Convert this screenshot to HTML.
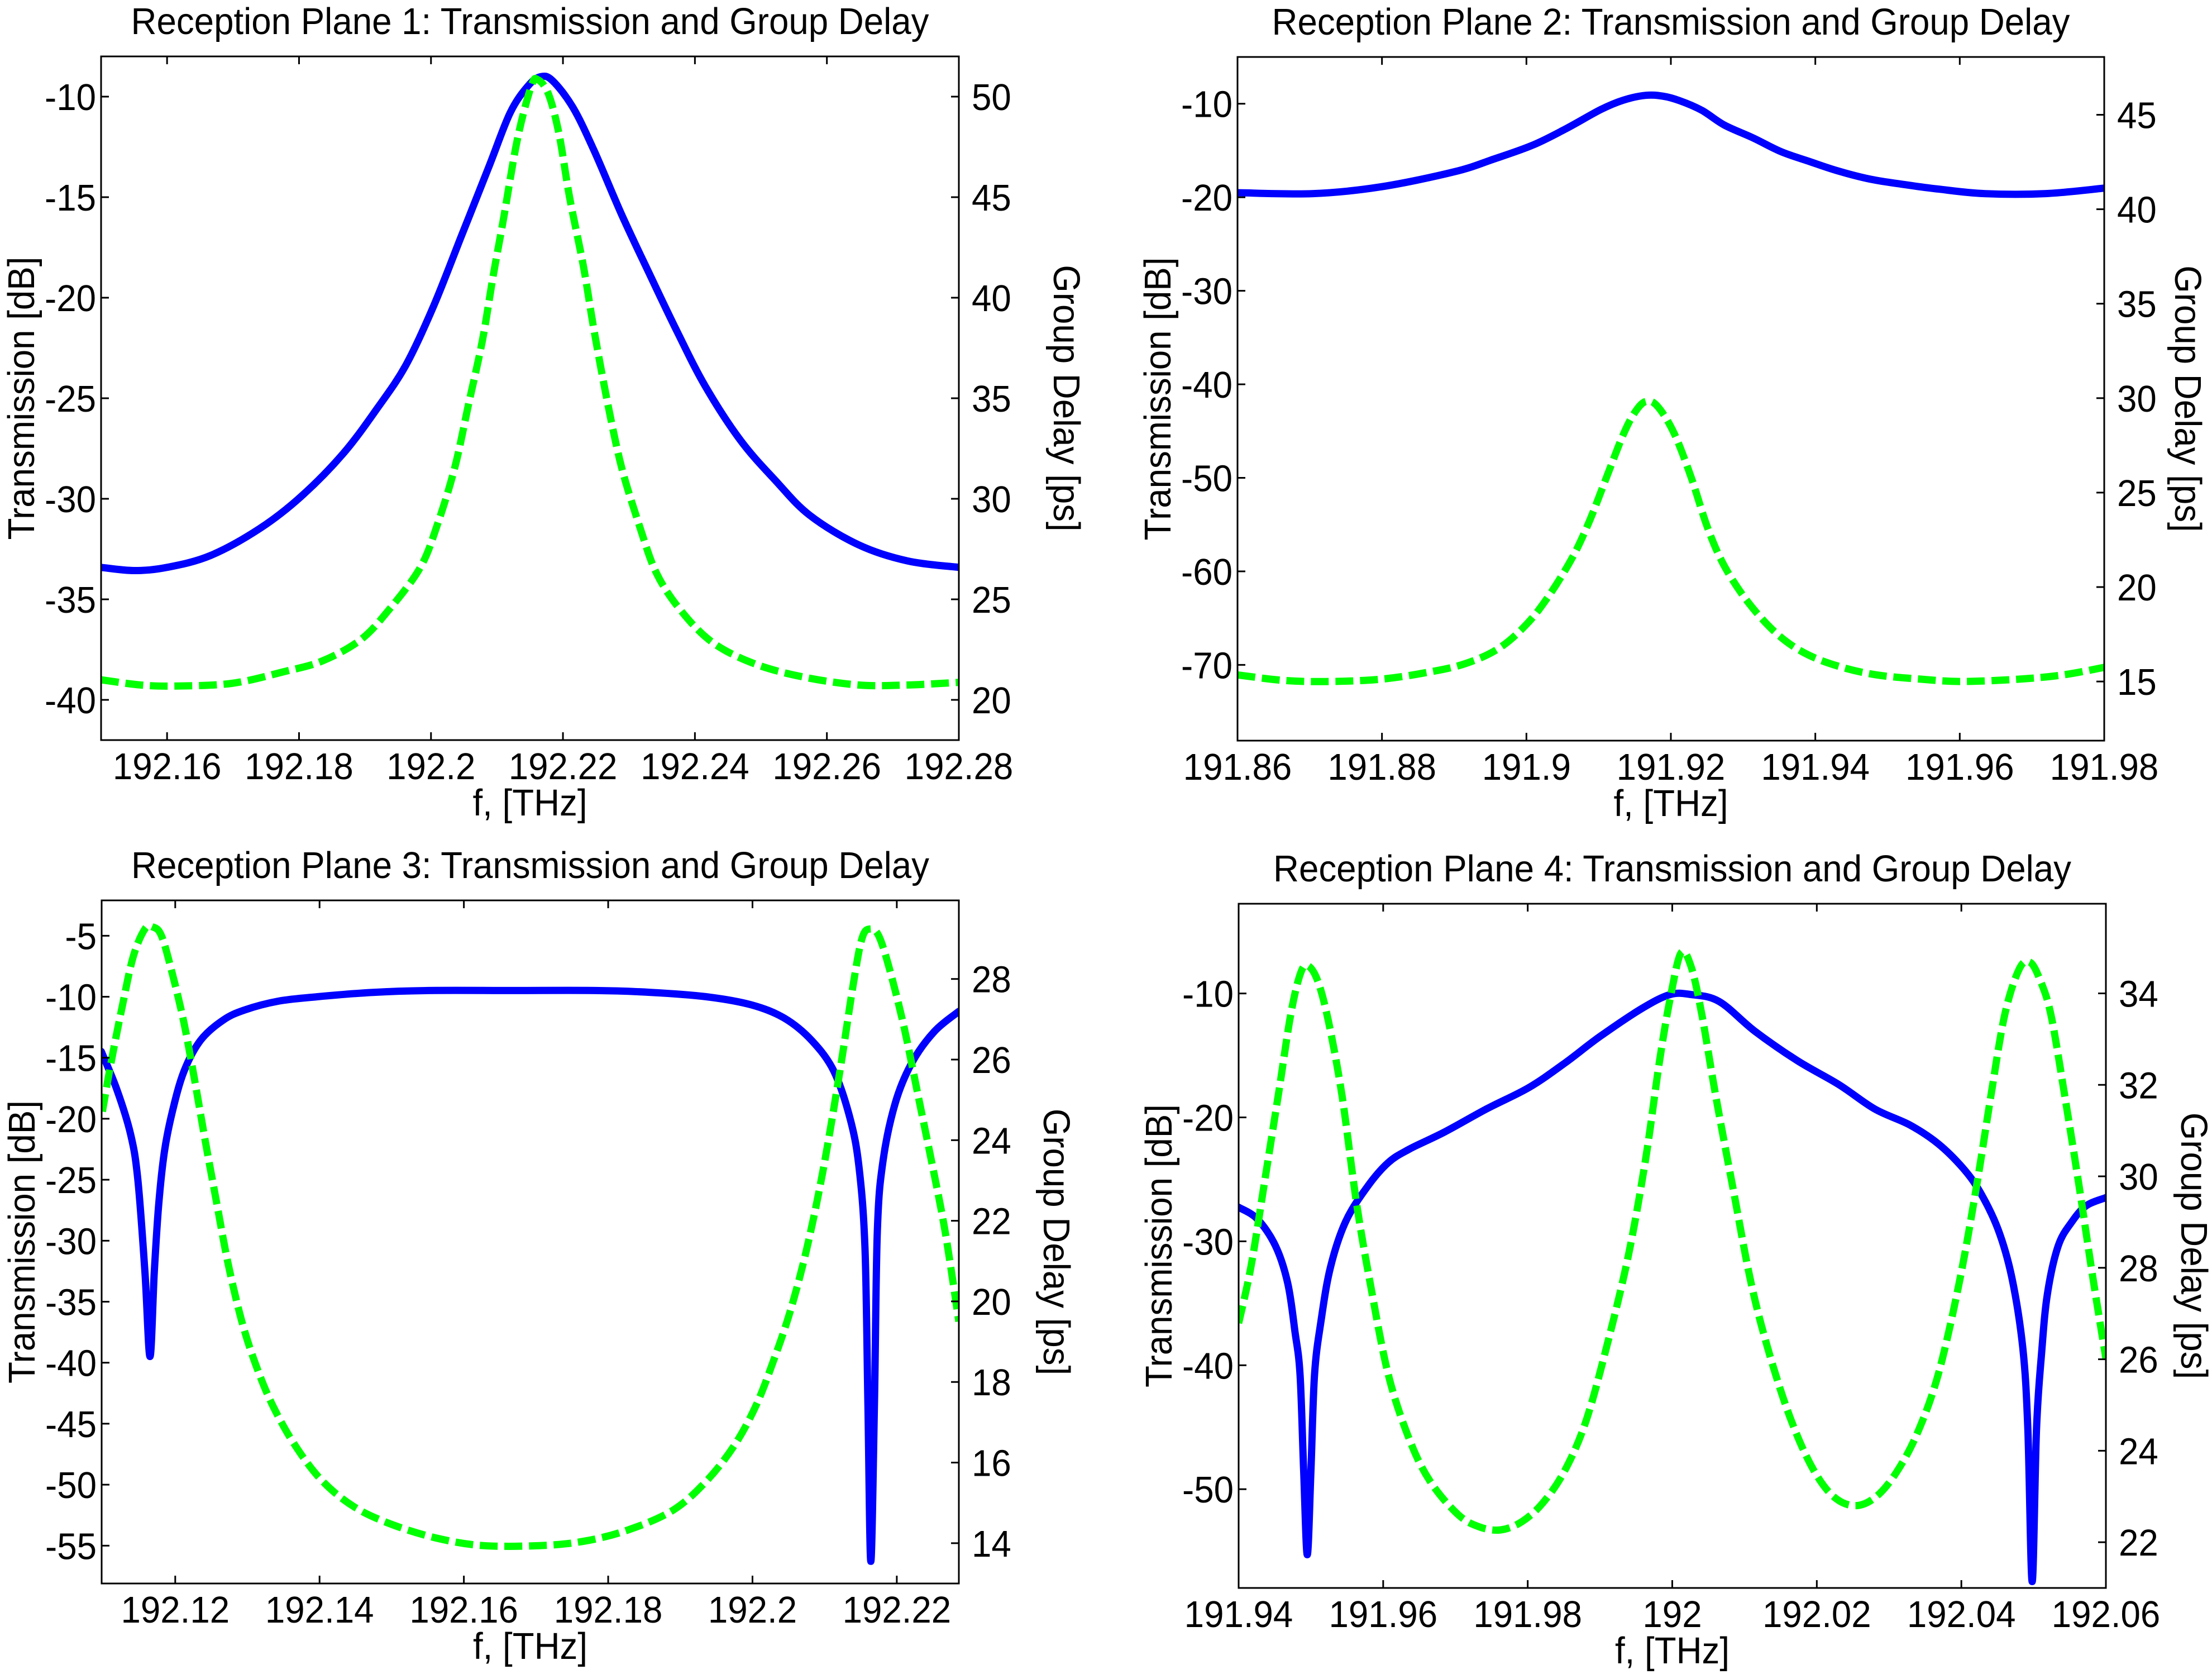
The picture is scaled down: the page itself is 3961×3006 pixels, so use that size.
<!DOCTYPE html>
<html><head><meta charset="utf-8"><style>
html,body{margin:0;padding:0;background:#fff;}
svg{display:block;}
text{font-family:"Liberation Sans",Arial,sans-serif;fill:#000;}
</style></head><body>
<svg id="chart" xmlns="http://www.w3.org/2000/svg" width="3961" height="3006" viewBox="0 0 3961 3006">
<rect x="0" y="0" width="3961" height="3006" fill="#fff"/>
</svg>
<script>
// ---------- Plane 1 ----------
const p1Freq = [192.15,192.155,192.16,192.1666,192.174,192.1803,192.1867,192.1919,192.1962,192.2004,192.2046,192.2088,192.212,192.2147,192.2166,192.2184,192.2215,192.2247,192.2289,192.2331,192.2374,192.2416,192.2469,192.2522,192.2574,192.2648,192.2722,192.28];
const p1Trans = [-33.41,-33.57,-33.41,-32.82,-31.49,-29.89,-27.75,-25.48,-23.35,-20.41,-16.94,-13.47,-10.80,-9.47,-9.01,-9.20,-10.53,-12.67,-15.87,-18.81,-21.75,-24.42,-27.09,-29.09,-30.82,-32.29,-33.09,-33.41];
const p1FreqG = [192.15,192.156,192.1613,192.1698,192.1777,192.1835,192.1893,192.1935,192.1983,192.2009,192.2036,192.2057,192.2078,192.2094,192.211,192.2131,192.2152,192.2162,192.2178,192.2194,192.221,192.2231,192.2247,192.2268,192.2289,192.2316,192.2342,192.2379,192.2427,192.249,192.2564,192.2648,192.2722,192.28];
const p1Delay = [21.0,20.74,20.69,20.82,21.40,21.93,22.98,24.43,26.54,28.65,31.55,34.71,37.88,41.04,43.94,47.89,50.53,50.84,50.13,48.15,45.0,41.57,38.40,34.71,31.55,28.65,26.28,24.43,22.85,21.80,21.14,20.74,20.74,20.87];
// ---------- Plane 2 ----------
const p2Freq = [191.86,191.8705,191.8798,191.89,191.8954,191.9009,191.9056,191.9103,191.9134,191.9165,191.9189,191.9212,191.9243,191.9274,191.9314,191.9353,191.9392,191.9431,191.9477,191.9524,191.9571,191.9634,191.9719,191.98];
const p2Trans = [-19.51,-19.61,-18.89,-17.28,-15.94,-14.42,-12.62,-10.62,-9.62,-9.10,-9.19,-9.67,-10.71,-12.28,-13.66,-15.14,-16.18,-17.18,-18.08,-18.65,-19.13,-19.61,-19.61,-19.03];
const p2FreqG = [191.86,191.8666,191.8728,191.8798,191.8861,191.8915,191.8962,191.9001,191.9032,191.9064,191.9087,191.9111,191.9134,191.915,191.9165,191.9181,191.9204,191.9228,191.9251,191.9274,191.9306,191.9345,191.9384,191.9431,191.9485,191.9548,191.9602,191.968,191.9743,191.98];
const p2Delay = [15.35,15.05,15.0,15.12,15.47,15.94,16.76,18.06,19.59,21.59,23.47,25.82,28.06,29.24,29.82,29.59,28.18,25.82,23.12,21.12,19.24,17.59,16.53,15.82,15.35,15.12,15.0,15.12,15.35,15.75];
// ---------- Plane 3 ----------
const p3Freq = [192.10975,192.1119,192.1138,192.1148,192.1158,192.1165,192.1171,192.1177,192.1185,192.1196,192.1212,192.1235,192.1266,192.1296,192.1343,192.1397,192.1474,192.1551,192.1666,192.1782,192.1859,192.1936,192.1998,192.2044,192.2082,192.2113,192.2136,192.2148,192.2156,192.216,192.2164,192.2169,192.2173,192.2181,192.2198,192.2221,192.2252,192.2286];
const p3Trans = [-14.49,-17.59,-21.24,-24.89,-32.55,-39.49,-32.55,-27.08,-22.70,-19.42,-16.13,-13.58,-11.93,-11.09,-10.36,-10.0,-9.64,-9.49,-9.49,-9.49,-9.64,-10.0,-10.66,-11.75,-13.58,-16.13,-20.15,-24.16,-30.73,-43.5,-56.28,-43.5,-29.27,-23.43,-18.69,-15.40,-12.85,-11.20];
const p3FreqG = [192.1099,192.1111,192.1127,192.1142,192.1158,192.1169,192.1181,192.1196,192.1212,192.1227,192.1242,192.1258,192.1273,192.1292,192.1312,192.1335,192.1366,192.1404,192.145,192.1504,192.1566,192.1627,192.1705,192.1767,192.1828,192.189,192.1936,192.1975,192.2005,192.2029,192.2052,192.2075,192.2098,192.2121,192.214,192.2152,192.2163,192.2175,192.219,192.221,192.2229,192.2248,192.2267,192.2286];
const p3Delay = [24.71,25.92,27.36,28.57,29.24,29.29,29.07,28.13,26.92,25.48,23.94,22.39,20.96,19.52,18.41,17.42,16.43,15.54,14.88,14.44,14.11,13.94,13.94,14.05,14.33,14.82,15.54,16.43,17.42,18.52,19.74,21.29,23.27,25.70,27.91,29.02,29.24,29.07,28.24,26.81,25.15,23.49,21.73,19.5];
// ---------- Plane 4 ----------
const p4Freq = [191.94,191.9426,191.9451,191.9468,191.9478,191.9485,191.949,191.9495,191.95,191.9505,191.9514,191.9527,191.9548,191.9578,191.9607,191.9636,191.9685,191.9743,191.9802,191.9851,191.99,191.9958,191.9997,192.0026,192.0065,192.0114,192.0173,192.0231,192.028,192.0329,192.0368,192.0402,192.0426,192.0451,192.047,192.0485,192.0492,192.0498,192.0504,192.0511,192.0519,192.0534,192.0553,192.0573,192.06];
const p4Trans = [-27.25,-28.20,-30.37,-33.40,-37.30,-40.77,-48.57,-55.29,-48.57,-40.77,-36.43,-32.10,-28.42,-25.60,-23.65,-22.57,-21.18,-19.32,-17.58,-15.63,-13.47,-11.21,-10.09,-10.09,-10.65,-13.03,-15.42,-17.37,-19.32,-20.62,-22.13,-24.08,-26.03,-29.07,-32.97,-38.60,-45.10,-57.45,-45.10,-39.04,-34.27,-30.37,-28.42,-27.12,-26.47];
const p4FreqG = [191.94,191.9417,191.9436,191.9456,191.9472,191.9485,191.9495,191.9509,191.9524,191.9543,191.9563,191.9582,191.9607,191.9636,191.9665,191.9704,191.9734,191.9763,191.9792,191.9821,191.9851,191.988,191.9909,191.9939,191.9963,191.9982,191.9997,192.0012,192.0026,192.0041,192.006,192.0085,192.0109,192.0134,192.0163,192.0192,192.0221,192.0251,192.028,192.0309,192.0339,192.0368,192.0397,192.0421,192.0441,192.046,192.048,192.0495,192.0509,192.0524,192.0543,192.0563,192.0582,192.06];
const p4Delay = [26.79,28.02,29.89,31.89,33.53,34.41,34.61,34.29,33.41,31.77,29.43,27.67,25.67,24.26,23.33,22.60,22.33,22.27,22.45,22.86,23.56,24.62,26.26,28.25,30.36,32.48,33.88,34.88,34.59,33.53,31.77,29.66,27.67,26.14,24.73,23.68,23.03,22.8,22.97,23.5,24.38,25.67,27.67,29.78,31.77,33.53,34.53,34.68,34.29,33.53,31.77,29.78,27.78,26.02];
// tick labels
const p1XTicks = ["192.16","192.18","192.2","192.22","192.24","192.26","192.28"];
const p1YLTicks = [-40,-35,-30,-25,-20,-15,-10];
const p1YRTicks = [20,25,30,35,40,45,50];
const p2XTicks = ["191.86","191.88","191.9","191.92","191.94","191.96","191.98"];
const p2YLTicks = [-70,-60,-50,-40,-30,-20,-10];
const p2YRTicks = [15,20,25,30,35,40,45];
const p3XTicks = ["192.12","192.14","192.16","192.18","192.2","192.22"];
const p3YLTicks = [-55,-50,-45,-40,-35,-30,-25,-20,-15,-10,-5];
const p3YRTicks = [14,16,18,20,22,24,26,28];
const p4XTicks = ["191.94","191.96","191.98","192","192.02","192.04","192.06"];
const p4YLTicks = [-50,-40,-30,-20,-10];
const p4YRTicks = [22,24,26,28,30,32,34];

const NS = "http://www.w3.org/2000/svg";
const svg = document.getElementById("chart");
const FS = 67;
const SX = 0.95;

function el(tag, attrs, parent) {
  const e = document.createElementNS(NS, tag);
  for (const k in attrs) e.setAttribute(k, attrs[k]);
  (parent || svg).appendChild(e);
  return e;
}
function txt(str, x, y, anchor, rot, parent) {
  const t = document.createElementNS(NS, "text");
  t.setAttribute("font-size", FS);
  t.setAttribute("text-anchor", anchor);
  t.setAttribute("transform", "translate(" + x + "," + y + ") rotate(" + rot + ") scale(" + SX + ",1)");
  t.textContent = str;
  parent.appendChild(t);
  return t;
}
function lin(d0, d1, r0, r1) { return v => r0 + (v - d0) / (d1 - d0) * (r1 - r0); }
function smoothPath(pts) {
  let d = "M" + pts[0][0].toFixed(1) + "," + pts[0][1].toFixed(1);
  const k = 1 / 6;
  for (let i = 0; i < pts.length - 1; i++) {
    const p0 = pts[Math.max(0, i - 1)], p1 = pts[i], p2 = pts[i + 1], p3 = pts[Math.min(pts.length - 1, i + 2)];
    const c1x = p1[0] + (p2[0] - p0[0]) * k, c1y = p1[1] + (p2[1] - p0[1]) * k;
    const c2x = p2[0] - (p3[0] - p1[0]) * k, c2y = p2[1] - (p3[1] - p1[1]) * k;
    d += "C" + c1x.toFixed(1) + "," + c1y.toFixed(1) + " " + c2x.toFixed(1) + "," + c2y.toFixed(1) + " " + p2[0].toFixed(1) + "," + p2[1].toFixed(1);
  }
  return d;
}

const panels = [
  {id:1, L:181, T:101, R:1717, B:1325, x0:192.15, x1:192.28, yl0:-42, yl1:-8, yr0:18, yr1:52, ryo:170,
   xt:p1XTicks, ylt:p1YLTicks, yrt:p1YRTicks, fx:p1Freq, ty:p1Trans, gx:p1FreqG, gy:p1Delay},
  {id:2, L:2216, T:102, R:3768, B:1326, x0:191.86, x1:191.98, yl0:-78.1, yl1:-5, yr0:11.87, yr1:48.06, ryo:127,
   xt:p2XTicks, ylt:p2YLTicks, yrt:p2YRTicks, fx:p2Freq, ty:p2Trans, gx:p2FreqG, gy:p2Delay},
  {id:3, L:182, T:1612, R:1717, B:2835, x0:192.1098, x1:192.2286, yl0:-58.1, yl1:-2.1, yr0:13, yr1:29.95, ryo:152,
   xt:p3XTicks, ylt:p3YLTicks, yrt:p3YRTicks, fx:p3Freq, ty:p3Trans, gx:p3FreqG, gy:p3Delay},
  {id:4, L:2218, T:1618, R:3771, B:2843, x0:191.94, x1:192.06, yl0:-57.97, yl1:-2.76, yr0:21, yr1:35.96, ryo:135,
   xt:p4XTicks, ylt:p4YLTicks, yrt:p4YRTicks, fx:p4Freq, ty:p4Trans, gx:p4FreqG, gy:p4Delay}
];

panels.forEach(p => {
  const g = el("g", {});
  
  
  const sx = lin(p.x0, p.x1, p.L, p.R);
  const syl = lin(p.yl0, p.yl1, p.B, p.T);
  const syr = lin(p.yr0, p.yr1, p.B, p.T);
  const cx = (p.L + p.R) / 2, cy = (p.T + p.B) / 2;

  const title = txt("Reception Plane " + p.id + ": Transmission and Group Delay", cx, p.T - 40, "middle", 0, g);
  
  

  const cid = "clip" + p.id;
  const cp = el("clipPath", {id:cid}, g);
  el("rect", {x:p.L, y:p.T, width:p.R-p.L, height:p.B-p.T}, cp);

  const pts = (xs, ys, sc) => xs.map((x, i) => [sx(x), sc(ys[i])]);
  const blue = el("path", {d:smoothPath(pts(p.fx, p.ty, syl)), fill:"none", stroke:"#0000ff", "stroke-width":13, "stroke-linejoin":"round", "stroke-linecap":"round", "clip-path":"url(#" + cid + ")"}, g);
  
  
  const green = el("path", {d:smoothPath(pts(p.gx, p.gy, syr)), fill:"none", stroke:"#00ff00", "stroke-width":13, "stroke-dasharray":"32 12", "stroke-linejoin":"round", "clip-path":"url(#" + cid + ")"}, g);
  
  

  const box = el("rect", {x:p.L, y:p.T, width:p.R-p.L, height:p.B-p.T, fill:"none", stroke:"#000", "stroke-width":3}, g);
  
  

  p.xt.forEach(lbl => {
    const x = sx(parseFloat(lbl));
    el("line", {x1:x, y1:p.B, x2:x, y2:p.B-14, stroke:"#000", "stroke-width":3}, g);
    el("line", {x1:x, y1:p.T, x2:x, y2:p.T+14, stroke:"#000", "stroke-width":3}, g);
    const t = txt(lbl, x, p.B + 70, "middle", 0, g);
    
    
  });
  p.ylt.forEach(v => {
    const y = syl(v);
    el("line", {x1:p.L, y1:y, x2:p.L+14, y2:y, stroke:"#000", "stroke-width":3}, g);
    const t = txt(String(v), p.L - 9, y + 24, "end", 0, g);
    
    
  });
  p.yrt.forEach(v => {
    const y = syr(v);
    el("line", {x1:p.R, y1:y, x2:p.R-14, y2:y, stroke:"#000", "stroke-width":3}, g);
    const t = txt(String(v), p.R + 23, y + 24, "start", 0, g);
    
    
  });

  const xl = txt("f, [THz]", cx, p.B + 135, "middle", 0, g);
  
  
  const yl = txt("Transmission [dB]", p.L - 120, cy, "middle", -90, g);
  
  
  const yr = txt("Group Delay [ps]", p.R + p.ryo, cy, "middle", 90, g);
  
  
});
</script>
</body></html>
